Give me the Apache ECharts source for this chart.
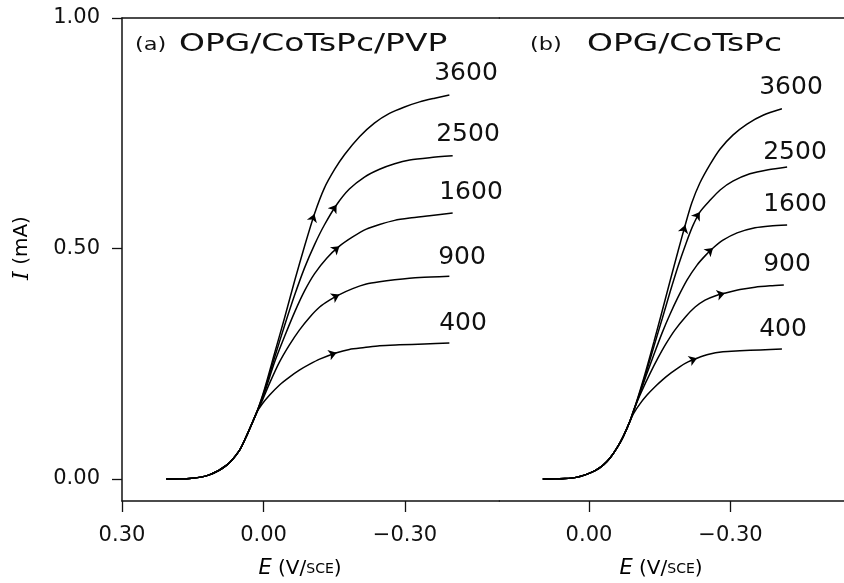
<!DOCTYPE html>
<html><head><meta charset="utf-8">
<script src="https://cdn.jsdelivr.net/npm/echarts@6/dist/echarts.min.js"></script>
<style>html,body{margin:0;padding:0;background:#fff}#c{width:844px;height:583px}</style>
</head><body><div id="c"></div>
<script>
// ---- tick labels ----
const xTicksA = [0.30, 0.00, -0.30];
const xTicksB = [0.00, -0.30];
const yTicks = [0.00, 0.50, 1.00];
const rotationRates = ['3600', '2500', '1600', '900', '400'];

// ---- panel (a) OPG/CoTsPc/PVP : shared foot of the waves, then one branch per rotation rate ----
const footA_E = [0.206, 0.178, 0.157, 0.115, 0.078, 0.051, 0.034, 0.015];
const footA_I = [0.000, 0.0005, 0.001, 0.009, 0.030, 0.062, 0.098, 0.143];
const a3600_E = [-0.002, -0.023, -0.045, -0.066, -0.087, -0.108, -0.129, -0.151, -0.172, -0.204, -0.235, -0.267, -0.299, -0.331, -0.363, -0.394];
const a3600_I = [0.195, 0.271, 0.351, 0.430, 0.505, 0.575, 0.631, 0.672, 0.704, 0.743, 0.772, 0.793, 0.807, 0.818, 0.826, 0.833];
const a2500_E = [-0.002, -0.023, -0.045, -0.066, -0.087, -0.108, -0.129, -0.155, -0.182, -0.214, -0.246, -0.278, -0.310, -0.352, -0.401];
const a2500_I = [0.191, 0.262, 0.334, 0.399, 0.458, 0.508, 0.551, 0.595, 0.629, 0.655, 0.672, 0.684, 0.692, 0.697, 0.701];
const a1600_E = [-0.002, -0.023, -0.045, -0.066, -0.087, -0.108, -0.134, -0.161, -0.189, -0.218, -0.246, -0.278, -0.310, -0.352, -0.401];
const a1600_I = [0.187, 0.252, 0.310, 0.362, 0.408, 0.445, 0.479, 0.505, 0.525, 0.542, 0.552, 0.561, 0.566, 0.571, 0.577];
const a900_E = [0.004, -0.013, -0.034, -0.055, -0.076, -0.098, -0.119, -0.140, -0.161, -0.189, -0.218, -0.246, -0.278, -0.331, -0.394];
const a900_I = [0.167, 0.208, 0.254, 0.291, 0.323, 0.351, 0.373, 0.388, 0.400, 0.413, 0.423, 0.428, 0.432, 0.437, 0.440];
const a400_E = [0.004, -0.013, -0.034, -0.055, -0.076, -0.098, -0.119, -0.155, -0.182, -0.214, -0.246, -0.288, -0.341, -0.394];
const a400_I = [0.161, 0.182, 0.204, 0.221, 0.236, 0.249, 0.260, 0.274, 0.281, 0.285, 0.289, 0.291, 0.293, 0.295];
const arrowIdxA = [5, 7, 7, 8, 7];

// ---- panel (b) OPG/CoTsPc ----
const footB_E = [0.098, 0.072, 0.051, 0.030, 0.008, -0.013, -0.030, -0.045, -0.059, -0.072, -0.087];
const footB_I = [0.000, 0.0004, 0.001, 0.003, 0.009, 0.018, 0.030, 0.046, 0.067, 0.091, 0.126];
const b3600_E = [-0.104, -0.121, -0.138, -0.155, -0.172, -0.189, -0.204, -0.218, -0.235, -0.257, -0.278, -0.305, -0.335, -0.369, -0.409];
const b3600_I = [0.178, 0.236, 0.299, 0.364, 0.430, 0.495, 0.551, 0.599, 0.642, 0.683, 0.716, 0.746, 0.770, 0.789, 0.803];
const b2500_E = [-0.104, -0.121, -0.138, -0.155, -0.172, -0.189, -0.206, -0.220, -0.235, -0.257, -0.278, -0.305, -0.341, -0.380, -0.420];
const b2500_I = [0.176, 0.230, 0.289, 0.347, 0.406, 0.462, 0.512, 0.549, 0.579, 0.605, 0.627, 0.646, 0.662, 0.671, 0.677];
const b1600_E = [-0.104, -0.121, -0.138, -0.155, -0.172, -0.189, -0.208, -0.229, -0.246, -0.263, -0.284, -0.314, -0.352, -0.384, -0.420];
const b1600_I = [0.174, 0.224, 0.271, 0.317, 0.358, 0.395, 0.432, 0.464, 0.484, 0.501, 0.518, 0.534, 0.545, 0.549, 0.551];
const b900_E = [-0.095, -0.112, -0.129, -0.146, -0.163, -0.182, -0.204, -0.225, -0.246, -0.267, -0.288, -0.320, -0.352, -0.384, -0.413];
const b900_I = [0.150, 0.191, 0.228, 0.262, 0.293, 0.323, 0.351, 0.373, 0.388, 0.397, 0.403, 0.411, 0.416, 0.419, 0.421];
const b400_E = [-0.095, -0.108, -0.123, -0.140, -0.157, -0.174, -0.193, -0.210, -0.229, -0.252, -0.284, -0.320, -0.363, -0.409];
const b400_I = [0.143, 0.163, 0.182, 0.200, 0.216, 0.230, 0.244, 0.254, 0.262, 0.270, 0.276, 0.278, 0.280, 0.282];
const arrowIdxB = [6, 8, 9, 10, 8];

const branchesA = [[a3600_E, a3600_I], [a2500_E, a2500_I], [a1600_E, a1600_I], [a900_E, a900_I], [a400_E, a400_I]];
const branchesB = [[b3600_E, b3600_I], [b2500_E, b2500_I], [b1600_E, b1600_I], [b900_E, b900_I], [b400_E, b400_I]];

const zip = (E, I) => E.map((e, i) => [e, I[i]]);
const INK = '#111';
const series = [];

function addPanel(footE, footI, branches, arrowIdx, gi) {
  const arrows = [];
  branches.forEach((br, k) => {
    const foot = zip(footE, footI);
    const branch = zip(br[0], br[1]);
    series.push({
      name: rotationRates[k] + (gi ? ' (b)' : ' (a)'),
      type: 'line', xAxisIndex: gi * 2, yAxisIndex: gi,
      data: foot.concat(branch), showSymbol: false, symbol: 'none',
      smooth: 0.25, lineStyle: { color: '#000', width: 1.5 }, silent: true
    });
    const j = arrowIdx[k];
    const p = branch[j], prev = branch[j - 1], next = branch[j + 1];
    const dx = next[0] - prev[0], dy = next[1] - prev[1];
    arrows.push({ coords: [[p[0] - 0.1 * dx, p[1] - 0.1 * dy], p] });
  });
  series.push({
    type: 'lines', coordinateSystem: 'cartesian2d', xAxisIndex: gi * 2, yAxisIndex: gi,
    symbol: ['none', 'arrow'], symbolSize: 8, silent: true,
    lineStyle: { color: '#000', width: 1, opacity: 1, curveness: 0 },
    data: arrows
  });
}
addPanel(footA_E, footA_I, branchesA, arrowIdxA, 0);
addPanel(footB_E, footB_I, branchesB, arrowIdxB, 1);

const fmt = v => (v < 0 ? '\u2212' + Math.abs(v).toFixed(2) : v.toFixed(2));
const axisLine = { show: true, onZero: false, lineStyle: { color: INK, width: 1.5 } };
const tickStyle = { color: INK, width: 1.3 };
const labelFont = { color: INK, fontFamily: 'DejaVu Sans', fontSize: 21 };

function bottomX(gi, min, max, ticks) {
  return {
    type: 'value', gridIndex: gi, position: 'bottom', inverse: true, min, max,
    axisLine, splitLine: { show: false }, minorTick: { show: false },
    axisTick: { show: true, inside: false, length: 11, customValues: ticks, lineStyle: tickStyle },
    axisLabel: Object.assign({ show: true, customValues: ticks, formatter: fmt, margin: 24 }, labelFont)
  };
}
function topX(gi, min, max) {
  return {
    type: 'value', gridIndex: gi, position: 'top', inverse: true, min, max,
    axisLine, splitLine: { show: false }, axisTick: { show: false }, axisLabel: { show: false }
  };
}
const pxPerV = 471.7;
const gAleft = 122, gAwidth = 0.8 * pxPerV;
const gBleft = gAleft + gAwidth, gBwidth = 844 - gBleft;
const bMax = (589 - gBleft) / pxPerV, bMin = -(844 - 589) / pxPerV;
const yMin = -22 / 461;

const T = (text, x, y, size, extra) => Object.assign({
  type: 'text', x, y, silent: true,
  style: Object.assign({ text, fill: INK, font: size + 'px "DejaVu Sans"', align: 'center', verticalAlign: 'middle', textAlign: 'center', textVerticalAlign: 'middle' }, extra && extra.style || {})
}, extra && extra.el || {});

const labelPosA = [[466, 73], [468, 134], [471, 192], [462, 257], [463, 323]];
const labelPosB = [[791, 87], [795, 152], [795, 204], [787, 264], [783, 329]];
const graphics = [];
rotationRates.forEach((r, k) => {
  graphics.push(T(r, labelPosA[k][0], labelPosA[k][1], 25));
  graphics.push(T(r, labelPosB[k][0], labelPosB[k][1], 25));
});
graphics.push(T('(a)', 135, 45, 18, { style: { align: 'left', textAlign: 'left' }, el: { scaleX: 1.25 } }));
graphics.push(T('OPG/CoTsPc/PVP', 179, 45, 24, { style: { align: 'left', textAlign: 'left' }, el: { scaleX: 1.37 } }));
graphics.push(T('(b)', 530, 45, 18, { style: { align: 'left', textAlign: 'left' }, el: { scaleX: 1.25 } }));
graphics.push(T('OPG/CoTsPc', 587, 45, 24, { style: { align: 'left', textAlign: 'left' }, el: { scaleX: 1.37 } }));

const richX = {
  e: { fontFamily: 'DejaVu Sans', fontStyle: 'italic', fontSize: 21, color: INK },
  n: { fontFamily: 'DejaVu Sans', fontSize: 20, color: INK },
  s: { fontFamily: 'DejaVu Sans', fontSize: 14, color: INK }
};
[300, 661].forEach(cx => {
  graphics.push({
    type: 'text', x: cx, y: 569, silent: true,
    style: { text: '{e|E}{n| (V/}{s|SCE}{n|)}', rich: richX, align: 'center', verticalAlign: 'middle', textAlign: 'center', textVerticalAlign: 'middle' }
  });
});
graphics.push({
  type: 'text', x: 22, y: 248, rotation: Math.PI / 2, silent: true,
  style: {
    text: '{i|I}{n| (mA)}', align: 'center', verticalAlign: 'middle', textAlign: 'center', textVerticalAlign: 'middle',
    rich: {
      i: { fontFamily: 'DejaVu Serif', fontStyle: 'italic', fontSize: 22, color: INK },
      n: { fontFamily: 'DejaVu Sans', fontSize: 20, color: INK }
    }
  }
});

const chart = echarts.init(document.getElementById('c'), null, { renderer: 'canvas' });
chart.setOption({
  backgroundColor: '#fff',
  animation: false,
  grid: [
    { left: gAleft, top: 18, width: gAwidth, height: 483 },
    { left: gBleft, top: 18, width: gBwidth, height: 483 }
  ],
  xAxis: [
    bottomX(0, -0.5, 0.3, xTicksA), topX(0, -0.5, 0.3),
    bottomX(1, bMin, bMax, xTicksB), topX(1, bMin, bMax)
  ],
  yAxis: [
    {
      type: 'value', gridIndex: 0, min: yMin, max: 1.0, axisLine, splitLine: { show: false },
      axisTick: { show: true, inside: false, length: 10, customValues: yTicks, lineStyle: tickStyle },
      axisLabel: Object.assign({ show: true, customValues: yTicks, formatter: fmt, margin: 22 }, labelFont)
    },
    { type: 'value', gridIndex: 1, min: yMin, max: 1.0, show: false }
  ],
  graphic: graphics,
  series
});
</script></body></html>
